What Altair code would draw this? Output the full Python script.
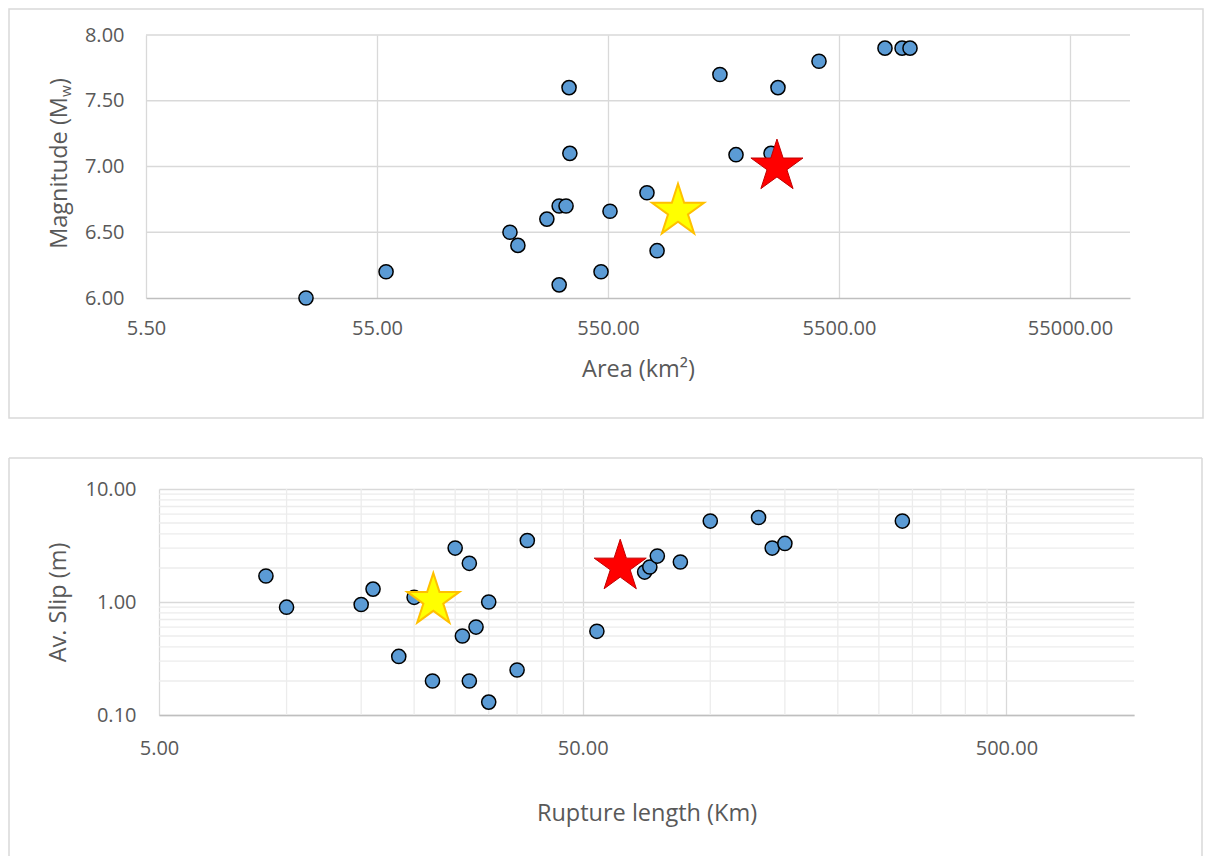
import altair as alt
import pandas as pd

# ---------------- top panel data ----------------
area = [27.1, 60.2, 207, 224, 299, 338, 338, 362, 373, 376, 513, 561, 811, 897,
        1678, 1970, 2792, 2993, 4505, 8697, 10311, 11160]
mag = [6.0, 6.2, 6.5, 6.4, 6.6, 6.1, 6.7, 6.7, 7.6, 7.1, 6.2, 6.66, 6.8, 6.36,
       7.7, 7.09, 7.1, 7.6, 7.8, 7.9, 7.9, 7.9]
area_red = [2963]
mag_red = [7.02]
area_yel = [1105]
mag_yel = [6.68]
area_ticks = [5.5, 55, 550, 5500, 55000]
mag_ticks = [6.0, 6.5, 7.0, 7.5, 8.0]

# ---------------- bottom panel data ----------------
rup_len = [8.94, 10.0, 15.0, 16.0, 18.4, 20.0, 22.1, 25.0, 26.0, 27.0, 27.0, 28.0,
           30.0, 30.0, 35.0, 37.0, 54.0, 70.0, 72.0, 75.0, 85.0, 100.0, 130.0,
           140.0, 150.0, 284.0]
slip = [1.70, 0.90, 0.95, 1.30, 0.33, 1.10, 0.20, 3.0, 0.50, 2.2, 0.20, 0.60,
        1.0, 0.13, 0.25, 3.5, 0.55, 1.84, 2.04, 2.55, 2.26, 5.2, 5.6, 3.0, 3.3, 5.2]
rup_red = [61.3]
slip_red = [2.17]
rup_yel = [22.2]
slip_yel = [1.09]
rup_ticks = [5, 50, 500]
slip_ticks = [0.1, 1, 10]
rup_minor = [10, 15, 20, 25, 30, 35, 40, 45, 100, 150, 200, 250, 300, 350, 400, 450]
slip_minor = [0.2, 0.3, 0.4, 0.5, 0.6, 0.7, 0.8, 0.9, 2, 3, 4, 5, 6, 7, 8, 9]

FONT = "Open Sans"
TXT = "#595959"
GRID = "#d9d9d9"
MINOR = "#ececec"
DOMAIN = "#bfbfbf"
BLUE = "#5b9bd5"
LBL = 20
TTL = 23.5

# five-pointed star, bounding box centred on the data point
STAR = ("M0,-0.9045L0.2245,-0.2135L0.951,-0.2135L0.3633,0.2135L0.5878,0.9045"
        "L0,0.4775L-0.5878,0.9045L-0.3633,0.2135L-0.951,-0.2135L-0.2245,-0.2135Z")


def one():
    return alt.Data(values=[{"k": 1}])


# ---------------- top panel ----------------
# the top plot starts 13 px left of the bottom one, so its x range starts at -13
W1, H1 = 971, 263
X0 = -13
sx1 = alt.Scale(type="log", domain=[5.5, 100000], nice=False, range=[X0, W1])
sy1 = alt.Scale(domain=[6, 8], nice=False, zero=False)
ax1 = alt.Axis(values=area_ticks, format=".2f", grid=True, gridColor=GRID, gridWidth=1.3,
               domainColor=DOMAIN, domainWidth=1.5, ticks=False, labelFontSize=LBL,
               labelColor=TXT, labelFont=FONT, labelPadding=20, labelFlush=False,
               title="Area (km²)", titleFont=FONT, titleFontSize=TTL,
               titleColor=TXT, titleFontWeight="normal", titleX=(X0 + W1) / 2, titleY=71,
               titleBaseline="middle", titleAlign="center")
ay1 = alt.Axis(values=mag_ticks, format=".2f", grid=False, domain=False, ticks=False,
               labelFontSize=LBL, labelColor=TXT, labelFont=FONT,
               labelPadding=22 - X0, title=None)


def X1(f):
    return alt.X(f"{f}:Q", scale=sx1, axis=ax1)


def Y1(f):
    return alt.Y(f"{f}:Q", scale=sy1, axis=ay1)


frame1 = alt.Chart(one()).mark_rect(fill="#ffffff", fillOpacity=0, stroke=GRID,
                                    strokeWidth=1.5).encode(
    x=alt.value(-150), x2=alt.value(1044), y=alt.value(-26), y2=alt.value(383))

ygrid1 = alt.Chart(pd.DataFrame({"t": mag_ticks[1:]})).mark_rule(
    color=GRID, strokeWidth=1.3).encode(y=Y1("t"), x=alt.value(X0), x2=alt.value(W1))

pts1 = alt.Chart(pd.DataFrame({"a": area, "m": mag})).mark_point(
    shape="circle", filled=True, fill=BLUE, stroke="black", strokeWidth=1.5,
    size=200, opacity=1).encode(x=X1("a"), y=Y1("m"))
yel1 = alt.Chart(pd.DataFrame({"a": area_yel, "m": mag_yel})).mark_point(
    shape=STAR, filled=True, fill="#ffff00", stroke="#ffc000", strokeWidth=2,
    size=3000, opacity=1).encode(x=X1("a"), y=Y1("m"))
red1 = alt.Chart(pd.DataFrame({"a": area_red, "m": mag_red})).mark_point(
    shape=STAR, filled=True, fill="#ff0000", stroke="#c00000", strokeWidth=1,
    size=3000, opacity=1).encode(x=X1("a"), y=Y1("m"))

t_main = alt.Chart(one()).mark_text(text="Magnitude (M", angle=270, align="right",
                                    baseline="alphabetic", font=FONT, fontSize=TTL,
                                    color=TXT).encode(x=alt.value(-92), y=alt.value(62))
t_sub = alt.Chart(one()).mark_text(text="w", angle=270, align="left",
                                   baseline="alphabetic", font=FONT, fontSize=15,
                                   color=TXT).encode(x=alt.value(-88), y=alt.value(62))
t_end = alt.Chart(one()).mark_text(text=")", angle=270, align="left",
                                   baseline="alphabetic", font=FONT, fontSize=TTL,
                                   color=TXT).encode(x=alt.value(-92), y=alt.value(50))

top = alt.layer(frame1, ygrid1, pts1, yel1, red1, t_main, t_sub, t_end).properties(
    width=W1, height=H1)

# ---------------- bottom panel ----------------
W2, H2 = 975, 226
sx2 = alt.Scale(type="log", domain=[5, 1000], nice=False)
sy2 = alt.Scale(type="log", domain=[0.1, 10], nice=False)
ax2 = alt.Axis(values=rup_ticks, format=".2f", grid=True, gridColor=GRID, gridWidth=1.3,
               domainColor=DOMAIN, domainWidth=1.5, ticks=False, labelFontSize=LBL,
               labelColor=TXT, labelFont=FONT, labelPadding=23, labelFlush=False,
               title="Rupture length (Km)", titleFont=FONT, titleFontSize=TTL,
               titleColor=TXT, titleFontWeight="normal", titleX=W2 / 2, titleY=98,
               titleBaseline="middle", titleAlign="center")
ay2 = alt.Axis(values=slip_ticks, format=".2f", grid=True, gridColor=GRID, gridWidth=1.3,
               domain=False, ticks=False, labelFontSize=LBL, labelColor=TXT, labelFont=FONT,
               labelPadding=23, title="Av. Slip (m)", titleFont=FONT, titleFontSize=TTL,
               titleColor=TXT, titleFontWeight="normal", titleX=-101, titleY=H2 / 2,
               titleBaseline="middle", titleAlign="center")


def X2(f):
    return alt.X(f"{f}:Q", scale=sx2, axis=ax2)


def Y2(f):
    return alt.Y(f"{f}:Q", scale=sy2, axis=ay2)


fl = alt.Chart(one()).mark_rule(color=GRID, strokeWidth=1.5).encode(
    x=alt.value(-150), y=alt.value(-31), y2=alt.value(367))
ft = alt.Chart(one()).mark_rule(color=GRID, strokeWidth=1.5).encode(
    x=alt.value(-150), x2=alt.value(1043), y=alt.value(-31))
fr = alt.Chart(one()).mark_rule(color=GRID, strokeWidth=1.5).encode(
    x=alt.value(1043), y=alt.value(-31), y2=alt.value(367))

vminor = alt.Chart(pd.DataFrame({"v": rup_minor})).mark_rule(
    color=MINOR, strokeWidth=1.3).encode(x=X2("v"))
hminor = alt.Chart(pd.DataFrame({"h": slip_minor})).mark_rule(
    color=MINOR, strokeWidth=1.3).encode(y=Y2("h"))

pts2 = alt.Chart(pd.DataFrame({"r": rup_len, "s": slip})).mark_point(
    shape="circle", filled=True, fill=BLUE, stroke="black", strokeWidth=1.5,
    size=200, opacity=1).encode(x=X2("r"), y=Y2("s"))
yel2 = alt.Chart(pd.DataFrame({"r": rup_yel, "s": slip_yel})).mark_point(
    shape=STAR, filled=True, fill="#ffff00", stroke="#ffc000", strokeWidth=2,
    size=3000, opacity=1).encode(x=X2("r"), y=Y2("s"))
red2 = alt.Chart(pd.DataFrame({"r": rup_red, "s": slip_red})).mark_point(
    shape=STAR, filled=True, fill="#ff0000", stroke="#c00000", strokeWidth=1,
    size=3000, opacity=1).encode(x=X2("r"), y=Y2("s"))

bottom = alt.layer(fl, ft, fr, vminor, hminor, pts2, yel2, red2).properties(
    width=W2, height=H2)

chart = alt.vconcat(top, bottom, spacing=38).properties(padding=0).configure_view(
    stroke=None)

chart.save("out.html", embed_options={"renderer": "svg", "actions": False})
